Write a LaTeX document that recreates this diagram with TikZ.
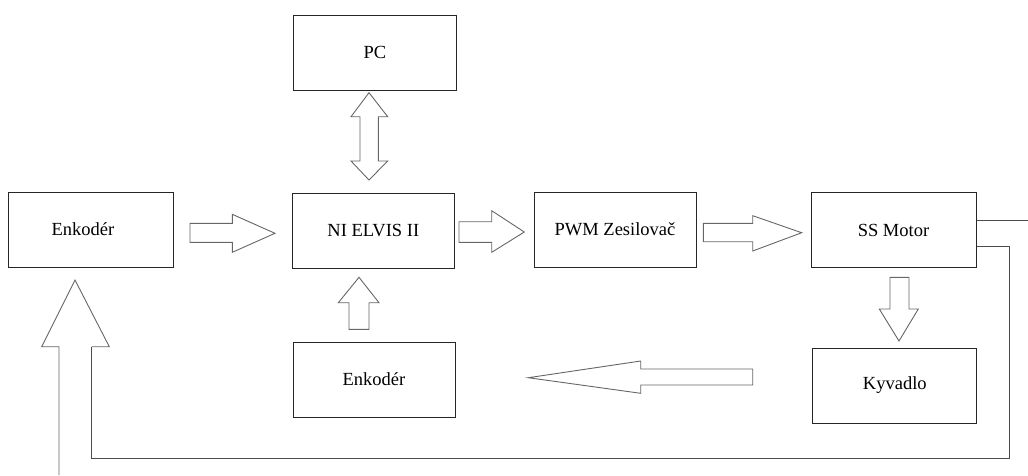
\documentclass[tikz,border=0pt]{standalone}
\usepackage{fontspec}
\setmainfont{Liberation Serif}

\begin{document}
\begin{tikzpicture}[x=1pt,y=-1pt,
    box/.style={draw=black!85, line width=1pt, minimum width=163pt, minimum height=75pt,
      inner sep=0pt, font=\fontsize{18.5}{20}\selectfont},
    blockarrow/.style={draw=black!60, line width=0.9pt, line join=miter},
    wire/.style={draw=black!70, line width=1pt}]
      \useasboundingbox (0,0) rectangle (1028,475);

      % blocks
      \node[box, minimum width=165pt] (enc1) at (91,229.5) {\hspace*{-16pt}Enkodér};
      \node[box] (pc) at (375,52.5) {PC};
      \node[box, minimum width=162pt] (ni) at (373.3,230.5) {NI ELVIS II};
      \node[box, minimum width=162pt] (pwm) at (615,229.5) {PWM Zesilovač};
      \node[box, minimum width=165pt] (ss) at (893.5,230) {SS Motor};
      \node[box, minimum width=162pt] (enc2) at (374,379.5) {Enkodér};
      \node[box, minimum width=164pt] (kyv) at (894.8,385.5) {Kyvadlo};

      % block arrows
      \draw[blockarrow] (190,223.3) -- (232.3,223.3) -- (232.3,214.3) -- (275,233.3)
        -- (232.3,252.3) -- (232.3,242.3) -- (190,242.3) -- cycle;
      \draw[blockarrow] (459,221.7) -- (491.7,221.7) -- (491.7,210.7) -- (524.3,232)
        -- (491.7,252.3) -- (491.7,242.3) -- (459,242.3) -- cycle;
      \draw[blockarrow] (703.3,223.3) -- (752.7,223.3) -- (752.7,215.7) -- (801.7,232.7)
        -- (752.7,251) -- (752.7,241.7) -- (703.3,241.7) -- cycle;
      \draw[blockarrow] (369,92.7) -- (387.7,116.7) -- (378.3,116.7) -- (378.3,161)
        -- (387.7,161) -- (369,180) -- (351,161) -- (360,161) -- (360,116.7)
        -- (351,116.7) -- cycle;
      \draw[blockarrow] (359,277.3) -- (379,302.7) -- (369,302.7) -- (369,329.3)
        -- (349,329.3) -- (349,302.7) -- (338.3,302.7) -- cycle;
      \draw[blockarrow] (890,277.3) -- (909,277.3) -- (909,309) -- (918.3,309)
        -- (899,341) -- (879.3,309) -- (890,309) -- cycle;
      \draw[blockarrow] (528.3,377.7) -- (640.7,361) -- (640.7,369) -- (752.7,369)
        -- (752.7,385) -- (640.7,385) -- (640.7,393.3) -- cycle;

      % feedback
      \coordinate (shaft) at (91.7,346.7);
      \coordinate (corner) at (1009.3,458.3);
      \coordinate (motorout) at (1028,220.7);
      \draw[blockarrow] (59,475) -- (59,346.7) -- (41.7,346.7) -- (75,280)
        -- (109.3,346.7) -- (shaft);
      \draw[wire] ([yshift=-16.3pt]ss.east) -| (corner) -| (shaft);
      \draw[wire] ([yshift=9.3pt]ss.east) -- (motorout);

\end{tikzpicture}
\end{document}
